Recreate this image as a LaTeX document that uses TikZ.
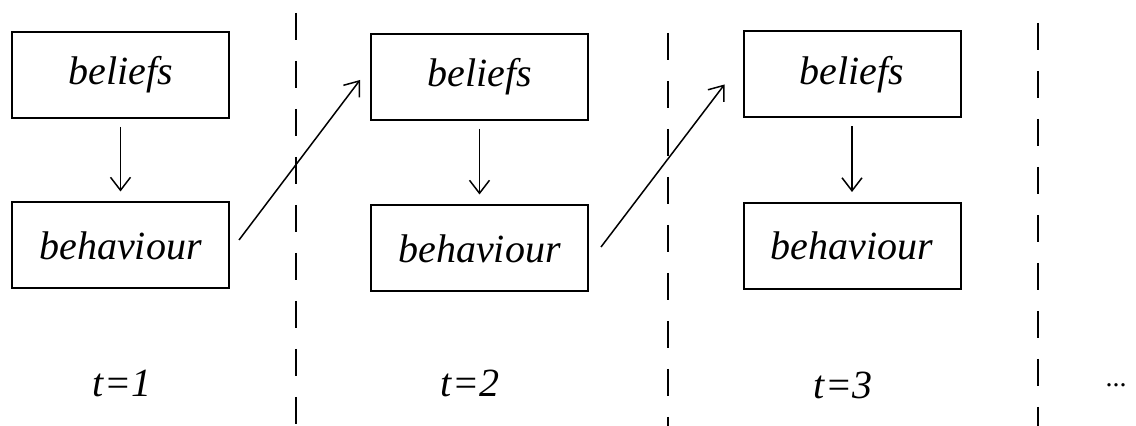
\documentclass[tikz,border=0pt]{standalone}
\usepackage{fontspec}
\setmainfont{Liberation Serif}
\usetikzlibrary{positioning, arrows.meta}

\begin{document}
\begin{tikzpicture}[
    x=0.5pt, y=-0.5pt,
    font=\fontsize{20}{24}\selectfont\itshape,
    box/.style={rectangle, draw=black, line width=1pt, minimum width=108.5pt,
                minimum height=43pt, align=center, inner sep=0pt},
    arrow/.style={-{Straight Barb[length=6.5pt, width=10pt]}, line width=0.75pt},
    down/.style={arrow, shorten <=4pt, shorten >=5pt},
    sep/.style={dashed, dash pattern=on 13.5pt off 10.5pt, line width=0.9pt},
    timelabel/.style={inner sep=0pt}
]
\useasboundingbox (0,0) rectangle (1136,426);

% --- Time steps ---
\node[box] (bel1) at (120.5,75) {beliefs};
\node[box] (beh1) at (120.5,245.5) {behaviour};
\node[box] (bel2) at (479.5,77) {beliefs};
\node[box] (beh2) at (479.5,248.5) {behaviour};
\node[box] (bel3) at (852,74.5) {beliefs};
\node[box] (beh3) at (852,246) {behaviour};

\node[timelabel] (t1) at (122,383) {t=1};
\node[timelabel] (t2) at (470,383) {t=2};
\node[timelabel] (t3) at (843,385) {t=3};
\node[timelabel, font=\fontsize{14}{16}\selectfont] (more) at (1116,385) {...};

% --- Separators ---
\draw[sep] (296,13) -- (296,426);
\draw[sep] (668,33) -- (668,426);
\draw[sep] (1038,23) -- (1038,426);

% --- Arrows ---
\draw[down] (bel1) -- (beh1);
\draw[down] (bel2) -- (beh2);
\draw[down] (bel3) -- (beh3);

\draw[arrow] ([xshift=4.5pt, yshift=2.75pt]beh1.east) -- ([xshift=-5pt, yshift=-1.5pt]bel2.west);
\draw[arrow] ([xshift=6pt, yshift=0.75pt]beh2.east) -- ([xshift=-9pt, yshift=-5pt]bel3.west);

\end{tikzpicture}
\end{document}
